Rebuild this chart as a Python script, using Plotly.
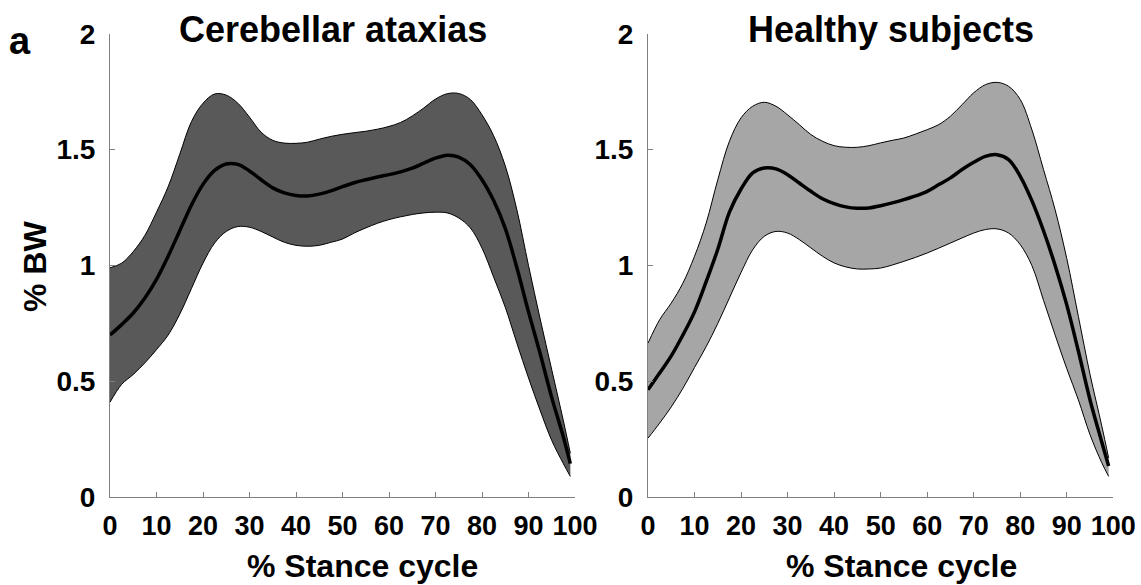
import plotly.graph_objects as go

# ---- data ----
stance = [0, 2.5, 5, 7.5, 10, 12.5, 15, 17.5, 20, 22.5, 25, 27.5, 30, 32.5, 35, 37.5,
          40, 42.5, 45, 47.5, 50, 52.5, 55, 57.5, 60, 62.5, 65, 67.5, 70, 72.5, 75,
          77.5, 80, 82.5, 85, 87.5, 90, 92.5, 95, 97.5, 99]

ca_upper = [0.99, 1.01, 1.06, 1.13, 1.23, 1.34, 1.48, 1.62, 1.70, 1.74, 1.735, 1.70,
            1.64, 1.575, 1.54, 1.528, 1.527, 1.532, 1.545, 1.557, 1.566, 1.573, 1.579,
            1.588, 1.60, 1.617, 1.645, 1.68, 1.718, 1.741, 1.742, 1.716, 1.65, 1.56,
            1.43, 1.24, 1.00, 0.77, 0.55, 0.33, 0.19]
ca_mean = [0.70, 0.745, 0.795, 0.86, 0.94, 1.04, 1.15, 1.26, 1.35, 1.41, 1.438, 1.436,
           1.408, 1.37, 1.335, 1.313, 1.302, 1.300, 1.308, 1.322, 1.34, 1.357, 1.37,
           1.382, 1.392, 1.404, 1.42, 1.442, 1.463, 1.476, 1.468, 1.435, 1.37, 1.28,
           1.16, 0.99, 0.80, 0.62, 0.43, 0.26, 0.145]
ca_lower = [0.41, 0.487, 0.53, 0.58, 0.637, 0.70, 0.79, 0.90, 1.01, 1.097, 1.147, 1.168,
            1.165, 1.147, 1.123, 1.10, 1.087, 1.083, 1.087, 1.10, 1.114, 1.14, 1.162,
            1.182, 1.198, 1.21, 1.22, 1.227, 1.23, 1.227, 1.205, 1.162, 1.075, 0.95,
            0.82, 0.665, 0.515, 0.375, 0.245, 0.145, 0.09]

hs_upper = [0.665, 0.766, 0.838, 0.924, 1.04, 1.183, 1.37, 1.536, 1.637, 1.687, 1.704,
            1.687, 1.65, 1.608, 1.565, 1.536, 1.517, 1.51, 1.51, 1.517, 1.529, 1.54,
            1.55, 1.567, 1.586, 1.608, 1.644, 1.694, 1.745, 1.78, 1.79, 1.773, 1.716,
            1.586, 1.414, 1.24, 1.03, 0.78, 0.53, 0.31, 0.17]
hs_mean = [0.464, 0.536, 0.61, 0.70, 0.80, 0.93, 1.07, 1.23, 1.33, 1.40, 1.421, 1.417,
           1.392, 1.356, 1.32, 1.288, 1.267, 1.253, 1.247, 1.248, 1.258, 1.27, 1.284,
           1.30, 1.32, 1.349, 1.378, 1.414, 1.445, 1.471, 1.478, 1.457, 1.385, 1.28,
           1.15, 1.0, 0.83, 0.63, 0.42, 0.24, 0.135]
hs_lower = [0.255, 0.32, 0.39, 0.47, 0.56, 0.65, 0.75, 0.86, 0.97, 1.068, 1.126, 1.147,
            1.14, 1.112, 1.076, 1.04, 1.011, 0.994, 0.985, 0.985, 0.989, 1.002, 1.018,
            1.035, 1.054, 1.075, 1.097, 1.119, 1.14, 1.155, 1.158, 1.14, 1.09, 1.0,
            0.85, 0.70, 0.555, 0.42, 0.27, 0.15, 0.09]

x_ticks = [0, 10, 20, 30, 40, 50, 60, 70, 80, 90, 100]
y_ticks = [0, 0.5, 1, 1.5, 2]
y_tick_text = ["0", "0.5", "1", "1.5", "2"]

panel_titles = ["Cerebellar ataxias", "Healthy subjects"]
band_colors = ["#595959", "#a6a6a6"]

# ---- figure ----
W, H = 1141, 585
FONT = "Liberation Sans, Arial, sans-serif"
fig = go.Figure()

panels = [(ca_upper, ca_mean, ca_lower), (hs_upper, hs_mean, hs_lower)]
for i, (up, mn, lo) in enumerate(panels):
    xa = "x" if i == 0 else "x2"
    ya = "y" if i == 0 else "y2"
    fig.add_trace(go.Scatter(x=stance, y=up, mode="lines", xaxis=xa, yaxis=ya,
                             line=dict(color="black", width=1, shape="spline"),
                             showlegend=False, hoverinfo="skip"))
    fig.add_trace(go.Scatter(x=stance, y=lo, mode="lines", xaxis=xa, yaxis=ya,
                             fill="tonexty", fillcolor=band_colors[i],
                             line=dict(color="black", width=1, shape="spline"),
                             showlegend=False, hoverinfo="skip"))
    fig.add_trace(go.Scatter(x=stance, y=mn, mode="lines", xaxis=xa, yaxis=ya,
                             line=dict(color="black", width=3.5, shape="spline"),
                             showlegend=False))

axis_common = dict(showline=True, linecolor="#808080", linewidth=1, ticks="inside",
                   ticklen=5, tickcolor="#808080", showgrid=False, zeroline=False,
                   automargin=False)
xfont = dict(family=FONT, size=27, color="black", weight="bold")
yfont = dict(family=FONT, size=28, color="black", weight="bold")

y0, y1 = 1 - 497.3 / H, 1 - 33.7 / H
fig.update_layout(
    template="none",
    width=W, height=H, margin=dict(l=0, r=0, t=0, b=0, pad=0),
    paper_bgcolor="white", plot_bgcolor="white",
    xaxis=dict(domain=[110 / W, 575 / W], range=[0, 100], tickvals=x_ticks,
               anchor="y", ticklabelstandoff=4, tickfont=xfont, **axis_common),
    yaxis=dict(domain=[y0, y1], range=[0, 2], tickvals=y_ticks, ticktext=y_tick_text,
               anchor="x", ticklabelstandoff=8, tickfont=yfont, **axis_common),
    xaxis2=dict(domain=[648 / W, 1113.3 / W], range=[0, 100], tickvals=x_ticks,
                anchor="y2", ticklabelstandoff=4, tickfont=xfont, **axis_common),
    yaxis2=dict(domain=[y0, y1], range=[0, 2], tickvals=y_ticks, ticktext=y_tick_text,
                anchor="x2", ticklabelstandoff=8, tickfont=yfont, **axis_common),
)

def ann(text, px, py, size, angle=0):
    fig.add_annotation(text=text, x=px / W, y=1 - py / H, xref="paper", yref="paper",
                       showarrow=False, xanchor="center", yanchor="middle",
                       textangle=angle,
                       font=dict(family=FONT, size=size, color="black", weight="bold"))

ann(panel_titles[0], 333, 29, 36)
ann(panel_titles[1], 891, 29, 36)
ann("a", 20, 41, 38)
ann("% Stance cycle", 362, 566, 32)
ann("% Stance cycle", 901, 566, 32)
ann("% BW", 35, 267, 32, angle=-90)

fig.write_html("out.html")
